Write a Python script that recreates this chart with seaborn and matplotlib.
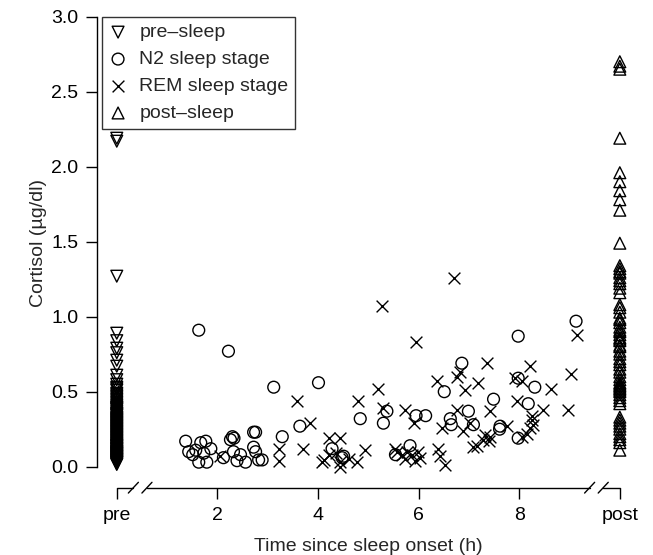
import numpy as np
import pandas as pd
import matplotlib
matplotlib.use("Agg")
import matplotlib.pyplot as plt
import seaborn as sns

# pre-sleep samples (plotted at x = "pre")
pre_sleep = [2.19, 2.17, 1.27, 0.89, 0.84, 0.79, 0.76, 0.71, 0.67, 0.61, 0.58,
             0.55, 0.53, 0.51, 0.49, 0.47, 0.45, 0.44, 0.42, 0.40, 0.39, 0.37,
             0.36, 0.34, 0.33, 0.31, 0.30, 0.29, 0.28, 0.27, 0.26, 0.25, 0.24,
             0.23, 0.22, 0.21, 0.20, 0.19, 0.18, 0.17, 0.16, 0.15, 0.14, 0.13,
             0.12, 0.11, 0.10, 0.09, 0.08, 0.07, 0.06, 0.05, 0.04, 0.03, 0.02,
             0.395, 0.385, 0.355, 0.345, 0.325, 0.315, 0.305, 0.295, 0.285,
             0.275, 0.265, 0.255, 0.245, 0.235, 0.225, 0.215, 0.205, 0.195,
             0.185, 0.175, 0.165, 0.155, 0.145, 0.135, 0.125, 0.115, 0.105,
             0.095, 0.085, 0.075, 0.065, 0.055, 0.045, 0.035, 0.025, 0.015,
             0.14, 0.12, 0.10, 0.09, 0.08, 0.07, 0.06, 0.05, 0.04, 0.03,
             0.43, 0.41, 0.38, 0.35, 0.32, 0.46, 0.48, 0.52]

# post-sleep samples (plotted at x = "post")
post_sleep = [2.70, 2.67, 2.65, 2.19, 1.96, 1.90, 1.84, 1.78, 1.71, 1.49,
              1.34, 1.32, 1.29, 1.26, 1.22, 1.19, 1.16, 1.08, 1.03, 0.99,
              0.96, 0.93, 0.91, 0.88, 0.86, 0.84, 0.81, 0.77, 0.72, 0.68,
              0.63, 0.60, 0.56, 0.55, 0.53, 0.52, 0.50, 0.48, 0.46, 0.42,
              0.33, 0.29, 0.25, 0.20, 0.16, 0.11, 1.30, 1.24, 1.06, 0.98,
              0.90, 0.85, 0.80, 0.75, 0.70, 0.65, 0.58, 0.54, 0.51, 0.44,
              0.31, 0.27, 0.22, 0.18]

# N2 sleep stage samples
n2_time = [1.63, 2.22, 3.12, 4.01, 3.64, 3.29, 2.72, 2.76, 2.30, 2.33,
           1.37, 1.43, 1.57, 1.67, 1.77, 1.87, 1.63, 1.79, 2.12, 2.26,
           2.32, 2.56, 2.72, 2.76, 2.82, 2.89, 1.51, 1.73, 2.46, 2.39,
           4.84, 5.30, 5.37, 4.28, 4.48, 4.51, 5.54, 5.83, 5.95, 6.14,
           6.51, 6.63, 6.65, 6.86, 6.99, 7.09, 7.49, 7.61, 7.98, 7.98,
           7.98, 8.18, 8.31, 9.13, 7.62]
n2_cort = [0.91, 0.77, 0.53, 0.56, 0.27, 0.20, 0.23, 0.23, 0.20, 0.19,
           0.17, 0.10, 0.11, 0.16, 0.17, 0.12, 0.03, 0.03, 0.06, 0.18,
           0.10, 0.03, 0.13, 0.10, 0.045, 0.045, 0.08, 0.09, 0.08, 0.04,
           0.32, 0.29, 0.37, 0.12, 0.06, 0.07, 0.08, 0.14, 0.34, 0.34,
           0.50, 0.32, 0.28, 0.69, 0.37, 0.28, 0.45, 0.25, 0.87, 0.59,
           0.19, 0.42, 0.53, 0.97, 0.27]

# REM sleep stage samples
rem_time = [6.71, 5.27, 5.95, 7.36, 8.21, 5.19, 4.80, 5.30, 5.73, 5.90,
            6.36, 6.76, 6.83, 6.92, 7.19, 7.92, 8.05, 7.95, 7.42, 6.76,
            6.46, 6.89, 7.02, 7.75, 7.32, 7.42, 7.39, 7.29, 7.09, 7.16,
            6.39, 6.43, 6.53, 5.58, 5.67, 5.77, 5.87, 5.99, 5.73, 5.93,
            6.03, 8.05, 8.15, 8.21, 8.25, 8.27, 3.59, 3.84, 3.22, 3.22,
            3.70, 4.08, 4.22, 4.43, 4.21, 4.44, 4.44, 4.61, 4.35, 4.78,
            4.93, 5.54, 2.06, 9.14, 9.02, 8.64, 8.47, 8.96, 8.25, 4.11]
rem_cort = [1.26, 1.07, 0.83, 0.69, 0.67, 0.52, 0.44, 0.39, 0.38, 0.29,
            0.57, 0.60, 0.63, 0.51, 0.56, 0.59, 0.57, 0.44, 0.37, 0.38,
            0.26, 0.24, 0.29, 0.27, 0.21, 0.20, 0.17, 0.18, 0.13, 0.14,
            0.12, 0.07, 0.01, 0.10, 0.08, 0.10, 0.08, 0.10, 0.05, 0.04,
            0.06, 0.20, 0.22, 0.26, 0.31, 0.28, 0.44, 0.29, 0.12, 0.04,
            0.12, 0.03, 0.19, 0.19, 0.08, 0.03, 0.00, 0.05, 0.09, 0.03,
            0.11, 0.12, 0.07, 0.88, 0.62, 0.52, 0.38, 0.38, 0.34, 0.045]

tick_pos = [0, 2, 4, 6, 8, 10]
tick_labels = ["pre", "2", "4", "6", "8", "post"]
PRE_X, POST_X = 0, 10

pre_df = pd.DataFrame({"time": PRE_X, "cortisol": pre_sleep})
post_df = pd.DataFrame({"time": POST_X, "cortisol": post_sleep})
n2_df = pd.DataFrame({"time": n2_time, "cortisol": n2_cort})
rem_df = pd.DataFrame({"time": rem_time, "cortisol": rem_cort})

sns.set_style("ticks")
plt.rcParams["font.family"] = ["Liberation Sans", "DejaVu Sans"]
FS = 14

fig = plt.figure(figsize=(6.53, 5.55), dpi=100)
ax = fig.add_axes([0.148, 0.1213, 0.832, 0.881])

ms = 72
open_kw = dict(facecolors="none", edgecolor="black", color="black", linewidth=1.0, s=ms)
sns.scatterplot(data=pre_df, x="time", y="cortisol", marker="v", label="pre\u2013sleep", ax=ax, **open_kw)
sns.scatterplot(data=n2_df, x="time", y="cortisol", marker="o", label="N2 sleep stage", ax=ax, **open_kw)
sns.scatterplot(data=rem_df, x="time", y="cortisol", marker="x", color="black", linewidth=1.0, s=ms,
                label="REM sleep stage", ax=ax)
sns.scatterplot(data=post_df, x="time", y="cortisol", marker="^", label="post\u2013sleep", ax=ax, **open_kw)

ax.set_xlim(-0.4, 10.4)
ax.set_ylim(-0.14, 3.12)

# R-like axes
for s in ["top", "right", "bottom"]:
    ax.spines[s].set_visible(False)
ax.spines["left"].set_bounds(0, 3)
ax.spines["left"].set_linewidth(1.0)
ax.spines["left"].set_color("black")

ax.set_yticks(np.arange(0, 3.01, 0.5))
ax.set_yticklabels([f"{v:.1f}" for v in np.arange(0, 3.01, 0.5)])
ax.set_xticks(tick_pos)
ax.set_xticklabels(tick_labels)
ax.tick_params(axis="both", direction="out", length=8, width=1.0, color="black",
               labelsize=FS, labelcolor="black")
ax.tick_params(axis="y", pad=5)
ax.tick_params(axis="x", pad=6)

# x axis line with breaks
tr = ax.get_xaxis_transform()
for x0, x1 in [(0, 0.33), (0.6, 9.4), (9.67, 10)]:
    ax.plot([x0, x1], [0, 0], color="black", lw=1.0, transform=tr, clip_on=False)
for xc in [0.33, 0.6, 9.4, 9.67]:
    ax.plot([xc - 0.1, xc + 0.1], [-0.011, 0.011], color="black", lw=1.0, transform=tr, clip_on=False)

ax.set_xlabel("Time since sleep onset (h)", fontsize=FS, labelpad=10)
ax.set_ylabel("Cortisol (\u00b5g/dl)", fontsize=FS, labelpad=3)

leg = ax.legend(loc="upper left", bbox_to_anchor=(0.009, 0.963), borderaxespad=0,
                frameon=True, fancybox=False, fontsize=FS, handlelength=1.0,
                handletextpad=0.6, labelspacing=0.48, borderpad=0.35)
leg.get_frame().set_edgecolor("black")
leg.get_frame().set_linewidth(1.0)

fig.savefig("out.png", dpi=100)
